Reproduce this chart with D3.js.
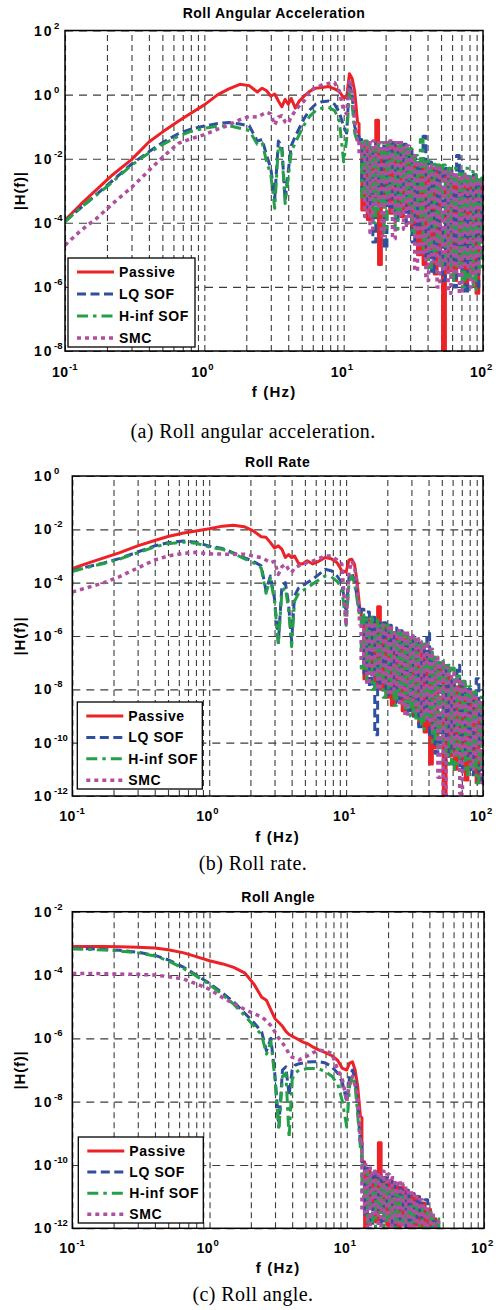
<!DOCTYPE html>
<html>
<head>
<meta charset="utf-8">
<script src="https://cdn.jsdelivr.net/npm/d3@7"></script>
<style>
  body { margin: 0; background: #fff; }
  svg text { font-family: "Liberation Sans", Arial, Helvetica, sans-serif; }
  svg text.cap { font-family: "Liberation Serif", "Times New Roman", serif; }
</style>
</head>
<body>
<svg id="fig" width="496" height="1310"></svg>
<script>
// Frequency grid (Hz) shared by all three responses
const freq = [
  0.1, 0.13, 0.17, 0.22, 0.3, 0.4, 0.5, 0.65, 0.8, 1.0,
  1.25, 1.5, 1.8, 2.1, 2.4, 2.6, 2.8, 3.0, 3.2, 3.4,
  3.6, 3.8, 4.0, 4.2, 4.5, 4.8, 5.2, 5.7, 6.3, 7.0,
  7.8, 8.6, 9.3, 10.0, 10.5, 11.0, 11.5, 12.0, 12.6,
  13.2, 13.8, 14.5, 15.1, 15.8, 16.6, 17.4, 18.2, 19.1, 20.0,
  20.9, 21.9, 22.9, 24.0, 25.1, 26.3, 27.5, 28.8, 30.2, 31.6,
  33.1, 34.7, 36.3, 38.0, 39.8, 41.7, 43.7, 45.7, 47.9, 50.1,
  52.5, 55.0, 57.5, 60.3, 63.1, 66.1, 69.2, 72.4, 75.9, 79.4,
  83.2, 87.1, 91.2, 95.5, 100
];
// above this frequency the responses chatter between upper and lower levels
const chatterFrom = 12.6;

const seriesNames = ["Passive", "LQ SOF", "H-inf SOF", "SMC"];

// Tick exponents (labels are 10^e)
const xExp = [-1, 0, 1, 2];
const accYExp = [-8, -6, -4, -2, 0, 2];
const rateYExp = [-12, -10, -8, -6, -4, -2, 0];
const angleYExp = [-12, -10, -8, -6, -4, -2];

// Roll angular acceleration, log10 |H(f)|
const accPassive = [
  -3.92, -3.42, -2.95, -2.50, -2.03, -1.48, -1.17, -0.83, -0.58, -0.32,
  0.00, 0.18, 0.32, 0.28, 0.08, 0.20, 0.12, -0.05, 0.02, -0.20,
  -0.38, -0.15, -0.30, -0.12, -0.42, -0.20, -0.05, 0.10, 0.20, 0.22,
  0.25, 0.18, 0.10, -0.10, -0.10, 0.65, 0.50, 0.10, -0.90,
  -1.5, -3.6, -1.6, -3.9, -1.7, -3.2, -0.8, -5.3, -1.7, -3.4,
  -1.6, -3.7, -1.5, -3.3, -1.6, -3.8, -1.7, -3.6, -1.9, -4.2,
  -2.2, -5.0, -2.1, -5.3, -2.3, -4.8, -2.3, -5.6, -2.4, -4.9,
  -8.0, -2.4, -5.5, -2.5, -5.8, -2.6, -5.4, -2.5, -6.0, -2.7,
  -5.6, -2.6, -6.2, -2.8, -4.5
];
const accLQ = [
  -3.95, -3.53, -3.10, -2.68, -2.17, -1.78, -1.50, -1.22, -1.08, -0.98,
  -0.90, -0.87, -0.92, -0.97, -1.45, -1.40, -1.90, -2.30, -3.25, -1.45,
  -1.60, -3.30, -2.40, -1.60, -1.30, -1.05, -0.75, -0.48, -0.30, -0.22,
  -0.20, -0.30, -0.55, -1.00, -1.20, 0.35, 0.00, -1.00, -1.30,
  -1.4, -3.0, -1.5, -3.5, -1.6, -4.6, -1.5, -3.2, -1.6, -4.8,
  -1.6, -3.5, -1.5, -3.9, -1.5, -3.4, -1.55, -4.0, -1.7, -4.6,
  -2.0, -4.2, -2.1, -1.3, -5.2, -2.1, -5.6, -2.2, -5.0, -2.3,
  -5.8, -2.3, -5.2, -2.4, -6.0, -1.9, -5.5, -2.4, -6.2, -2.5,
  -5.3, -2.5, -6.0, -2.7, -4.8
];
const accHinf = [
  -3.97, -3.52, -3.12, -2.72, -2.20, -1.82, -1.56, -1.30, -1.15, -1.05,
  -0.98, -0.97, -1.05, -1.12, -1.55, -1.50, -2.10, -2.50, -3.55, -1.60,
  -1.75, -3.40, -2.60, -1.80, -1.50, -1.25, -0.95, -0.68, -0.50, -0.42,
  -0.40, -0.50, -0.80, -2.10, -1.40, 0.15, -0.30, -1.20, -1.50,
  -1.5, -3.3, -1.45, -3.1, -1.6, -4.0, -1.55, -3.6, -1.5, -4.3,
  -1.5, -3.2, -1.6, -4.2, -1.5, -3.6, -1.6, -3.4, -1.7, -4.4,
  -1.9, -3.8, -1.4, -4.8, -2.0, -5.4, -2.1, -5.0, -2.2, -5.6,
  -2.2, -5.2, -2.3, -5.8, -2.3, -5.4, -2.4, -6.0, -2.3, -5.7,
  -2.4, -6.1, -2.5, -5.5, -2.6
];
const accSMC = [
  -4.70, -4.24, -3.85, -3.40, -2.90, -2.37, -1.96, -1.52, -1.38, -1.25,
  -1.08, -0.95, -0.78, -0.68, -0.70, -0.62, -0.55, -0.60, -0.95, -0.70,
  -0.66, -0.85, -0.90, -0.70, -0.50, -0.35, -0.20, 0.12, 0.22, 0.30,
  0.35, 0.38, 0.10, -0.50, -0.60, 0.48, 0.20, -0.80, -1.50,
  -1.9, -1.5, -3.8, -1.5, -4.3, -1.45, -3.5, -1.5, -4.4, -1.5,
  -3.4, -1.45, -4.5, -1.5, -3.8, -1.5, -4.2, -1.6, -4.0, -1.9,
  -5.5, -2.1, -5.0, -2.2, -5.8, -2.2, -5.2, -2.3, -6.0, -2.3,
  -5.5, -2.4, -6.2, -2.4, -5.6, -2.5, -6.2, -2.5, -5.4, -2.6,
  -6.0, -2.6, -5.6, -2.7, -5.0
];

// Roll rate, log10 |H(f)|
const ratePassive = [
  -3.47, -3.27, -3.07, -2.88, -2.62, -2.42, -2.27, -2.14, -2.06, -1.98,
  -1.88, -1.85, -1.90, -2.06, -2.28, -2.30, -2.50, -2.70, -2.62, -2.75,
  -3.05, -2.95, -3.06, -3.00, -3.28, -3.30, -3.18, -3.30, -3.20, -3.06,
  -3.10, -3.25, -3.55, -3.60, -3.15, -3.12, -3.30, -3.90, -5.00,
  -5.3, -7.6, -5.4, -7.2, -5.5, -7.8, -4.9, -8.0, -5.7, -8.3,
  -5.8, -8.6, -5.9, -8.2, -6.0, -8.8, -6.1, -8.5, -6.2, -9.0,
  -6.4, -9.3, -6.5, -9.6, -6.9, -10.8, -7.0, -10.2, -7.2, -7.3,
  -12.0, -7.5, -10.5, -7.7, -11.0, -7.9, -10.6, -8.0, -11.4, -8.2,
  -10.8, -8.4, -11.5, -8.6, -10.0
];
const rateLQ = [
  -3.56, -3.40, -3.26, -3.10, -2.85, -2.62, -2.50, -2.44, -2.48, -2.63,
  -2.72, -2.88, -3.06, -3.20, -3.37, -4.30, -3.75, -4.60, -6.25, -4.10,
  -4.00, -4.80, -6.20, -4.50, -4.20, -4.10, -4.00, -3.87, -3.70, -3.50,
  -3.55, -3.75, -4.00, -5.10, -3.80, -3.62, -3.90, -4.50, -5.10,
  -5.0, -7.4, -5.1, -7.9, -5.3, -9.7, -5.4, -7.8, -5.5, -8.2,
  -5.6, -8.0, -5.7, -8.5, -5.8, -8.3, -5.9, -8.8, -6.0, -9.0,
  -6.2, -9.4, -6.3, -9.1, -5.9, -9.8, -6.8, -10.4, -7.0, -10.0,
  -7.2, -10.8, -7.3, -10.2, -7.5, -7.1, -11.0, -7.8, -10.6, -8.0,
  -11.2, -8.2, -7.6, -11.4, -8.6
];
const rateHinf = [
  -3.58, -3.42, -3.28, -3.12, -2.88, -2.66, -2.54, -2.48, -2.52, -2.66,
  -2.75, -2.90, -3.10, -3.25, -3.45, -4.40, -3.85, -4.70, -6.30, -4.30,
  -4.20, -5.00, -6.40, -4.70, -4.40, -4.30, -4.20, -4.05, -3.90, -3.75,
  -3.78, -3.95, -4.20, -5.60, -4.00, -3.75, -4.00, -4.60, -5.30,
  -7.2, -5.2, -7.7, -5.3, -8.0, -5.4, -7.6, -5.5, -8.3, -5.6,
  -8.0, -5.7, -8.6, -5.8, -8.2, -5.9, -8.7, -6.0, -9.0, -6.1,
  -9.2, -6.2, -9.5, -6.3, -9.0, -6.6, -10.0, -6.8, -10.2, -6.9,
  -10.5, -7.0, -10.8, -7.2, -11.0, -7.5, -10.6, -7.7, -11.2, -7.9,
  -10.9, -8.1, -11.5, -8.3, -10.8
];
const rateSMC = [
  -4.35, -4.18, -4.00, -3.78, -3.45, -3.15, -3.00, -2.90, -2.86, -2.92,
  -2.93, -2.94, -2.93, -3.00, -3.06, -3.15, -3.25, -3.20, -3.69, -3.40,
  -3.31, -3.50, -3.62, -3.45, -3.37, -3.30, -3.25, -3.19, -3.10, -3.00,
  -3.00, -3.15, -3.30, -5.60, -3.60, -3.19, -3.40, -4.00, -5.60,
  -7.0, -5.6, -7.8, -5.5, -7.5, -5.6, -8.0, -5.6, -7.8, -5.7,
  -8.2, -5.7, -8.0, -5.8, -8.6, -5.9, -9.0, -5.9, -8.4, -6.0,
  -8.8, -6.1, -9.0, -6.3, -9.2, -6.5, -9.5, -6.8, -11.3, -7.0,
  -12.0, -7.2, -10.0, -7.4, -10.5, -7.6, -11.9, -7.8, -10.4, -8.0,
  -11.0, -8.2, -10.6, -8.4, -11.5
];

// Roll angle, log10 |H(f)| (responses fall below 1e-12 past ~48 Hz)
const anglePassive = [
  -3.10, -3.10, -3.10, -3.11, -3.12, -3.15, -3.20, -3.30, -3.42, -3.55,
  -3.65, -3.76, -3.93, -4.28, -4.70, -4.80, -5.10, -5.38, -5.50, -5.62,
  -5.78, -5.88, -5.93, -5.98, -6.05, -6.12, -6.17, -6.28, -6.37, -6.45,
  -6.55, -6.70, -6.95, -7.00, -6.78, -6.74, -7.00, -7.50, -8.50,
  -9.9, -12.0, -10.2, -11.2, -10.3, -11.8, -9.3, -11.5, -10.4, -11.9,
  -10.5, -11.6, -10.6, -12.1, -10.7, -11.8, -10.8, -12.2, -10.9, -11.9,
  -11.0, -12.3, -11.2, -12.1, -11.4, -12.4, -11.7, -12.6
];
const angleLQ = [
  -3.16, -3.17, -3.19, -3.22, -3.28, -3.38, -3.52, -3.76, -4.00, -4.26,
  -4.58, -4.85, -5.20, -5.50, -5.80, -6.40, -6.00, -7.20, -8.80, -7.00,
  -6.90, -7.80, -7.00, -6.85, -6.80, -6.78, -6.75, -6.74, -6.74, -6.78,
  -6.90, -7.10, -7.40, -8.00, -7.20, -7.00, -7.30, -8.20, -9.30,
  -9.9, -11.6, -10.1, -12.1, -10.2, -11.4, -10.3, -12.3, -10.4, -11.6,
  -10.5, -12.0, -10.6, -11.7, -10.7, -12.2, -10.8, -11.9, -10.9, -12.3,
  -11.0, -11.8, -11.2, -11.1, -12.2, -11.5, -12.4, -11.8, -12.6
];
const angleHinf = [
  -3.18, -3.19, -3.21, -3.24, -3.30, -3.40, -3.55, -3.80, -4.03, -4.30,
  -4.63, -4.92, -5.28, -5.60, -5.90, -6.50, -6.10, -7.30, -8.90, -7.20,
  -7.10, -9.15, -7.30, -7.10, -7.00, -6.98, -6.95, -6.95, -6.97, -7.05,
  -7.20, -7.45, -8.00, -8.80, -7.50, -7.20, -7.50, -8.40, -9.50,
  -11.0, -10.2, -11.8, -10.3, -12.2, -10.5, -11.5, -10.6, -12.3, -10.7,
  -11.7, -10.8, -12.2, -10.9, -11.8, -11.0, -12.3, -11.1, -11.9, -11.2,
  -12.4, -11.3, -12.0, -11.4, -12.3, -11.5, -12.5, -11.7, -12.6
];
const angleSMC = [
  -3.95, -3.95, -3.96, -3.97, -3.98, -4.00, -4.05, -4.13, -4.28, -4.45,
  -4.72, -4.90, -5.08, -5.22, -5.32, -5.45, -5.60, -5.80, -6.00, -6.15,
  -6.30, -6.50, -6.60, -6.62, -6.68, -6.62, -6.55, -6.45, -6.37, -6.40,
  -6.48, -7.00, -7.30, -8.00, -7.40, -7.20, -7.50, -7.80, -9.30,
  -11.5, -10.0, -12.0, -10.1, -11.6, -10.2, -12.2, -10.2, -11.7, -10.3,
  -12.3, -10.4, -11.8, -10.5, -12.2, -10.6, -11.9, -10.8, -12.4, -10.9,
  -12.0, -11.1, -12.3, -11.3, -12.2, -11.5, -12.5, -11.8, -12.6
];

// Line styles for Passive, LQ SOF, H-inf SOF, SMC
const styles = [
  { color: "#ec2227", dash: null,         width: 3 },
  { color: "#2f4f9f", dash: "9,4.5",      width: 3 },
  { color: "#26a048", dash: "11,5,3.5,5", width: 3 },
  { color: "#b04fa0", dash: "4,4",        width: 3.5 }
];

const panels = [
  { id: "acc", title: "Roll Angular Acceleration", caption: "(a) Roll angular acceleration.",
    left: 65, right: 483, top: 30.5, bottom: 351, yExp: accYExp,
    series: [accPassive, accLQ, accHinf, accSMC],
    titleY: 18, tickY: 377, xlabelY: 397, captionY: 438,
    legend: { x: 68, y: 258, w: 127, h: 89 } },
  { id: "rate", title: "Roll Rate", caption: "(b) Roll rate.",
    left: 72.3, right: 483, top: 476, bottom: 796, yExp: rateYExp,
    series: [ratePassive, rateLQ, rateHinf, rateSMC],
    titleY: 467, tickY: 821, xlabelY: 842, captionY: 870,
    legend: { x: 77.3, y: 702, w: 125, h: 87 } },
  { id: "angle", title: "Roll Angle", caption: "(c) Roll angle.",
    left: 72.3, right: 484, top: 911.7, bottom: 1228.3, yExp: angleYExp,
    series: [anglePassive, angleLQ, angleHinf, angleSMC],
    titleY: 902, tickY: 1253, xlabelY: 1273, captionY: 1301,
    legend: { x: 78.3, y: 1137, w: 125, h: 86 } }
];

const svg = d3.select("#fig");
const defs = svg.append("defs");
const gridColor = "#3c3c3c";

panels.forEach(p => {
  const x = d3.scaleLog().domain([0.1, 100]).range([p.left, p.right]);
  const yMin = Math.pow(10, d3.min(p.yExp)), yMax = Math.pow(10, d3.max(p.yExp));
  const y = d3.scaleLog().domain([yMin, yMax]).range([p.bottom, p.top]);
  const h = p.bottom - p.top, w = p.right - p.left;
  const g = svg.append("g");

  defs.append("clipPath").attr("id", "clip-" + p.id)
    .append("rect").attr("x", p.left).attr("y", p.top).attr("width", w).attr("height", h);

  // vertical grid on every log tick
  g.append("g").attr("transform", `translate(0,${p.bottom})`)
    .call(d3.axisBottom(x).ticks(10).tickSize(-h).tickFormat(""))
    .call(a => a.select(".domain").remove())
    .call(a => a.selectAll("line").attr("stroke", gridColor).attr("stroke-width", 1.1)
      .attr("stroke-dasharray", "6,4"));

  // horizontal grid on labelled decades
  const yTicks = p.yExp.map(e => Math.pow(10, e));
  g.append("g").attr("transform", `translate(${p.left},0)`)
    .call(d3.axisLeft(y).tickValues(yTicks).tickSize(-w).tickFormat(""))
    .call(a => a.select(".domain").remove())
    .call(a => a.selectAll("line").attr("stroke", gridColor).attr("stroke-width", 1.1)
      .attr("stroke-dasharray", "8,6"));

  // curves: smooth part as a polyline, chattering part as a step trace
  const smooth = d3.line().defined(d => d.v != null)
    .x(d => x(d.f)).y(d => y(Math.pow(10, d.v)));
  const chatter = d3.line().defined(d => d.v != null).curve(d3.curveStep)
    .x(d => x(d.f)).y(d => y(Math.pow(10, d.v)));
  const curves = g.append("g").attr("clip-path", `url(#clip-${p.id})`);
  p.series.forEach((vals, i) => {
    const pts = freq.map((f, k) => ({ f, v: vals[k] }));
    const lowPts = pts.filter(d => d.f <= chatterFrom);
    const highPts = pts.filter(d => d.f >= chatterFrom);
    const s = styles[i];
    const gs = curves.append("g")
      .attr("fill", "none").attr("stroke", s.color).attr("stroke-width", s.width)
      .attr("stroke-linejoin", "round").attr("stroke-dasharray", s.dash);
    gs.append("path").attr("d", smooth(lowPts));
    gs.append("path").attr("d", chatter(highPts));
  });

  // frame
  g.append("rect").attr("x", p.left).attr("y", p.top).attr("width", w).attr("height", h)
    .attr("fill", "none").attr("stroke", "#000").attr("stroke-width", 1.5);

  // y tick labels 10^e
  p.yExp.forEach(e => {
    const yy = y(Math.pow(10, e));
    g.append("text").attr("x", 34).attr("y", yy + 5)
      .attr("font-size", 14).attr("font-weight", "bold").attr("letter-spacing", 2).text("10");
    g.append("text").attr("x", 54).attr("y", yy - 2)
      .attr("font-size", 9.5).attr("font-weight", "bold").text(String(e));
  });

  // x tick labels 10^e
  xExp.forEach(e => {
    const xx = x(Math.pow(10, e));
    g.append("text").attr("x", xx - 13).attr("y", p.tickY)
      .attr("font-size", 14).attr("font-weight", "bold").attr("letter-spacing", 0.5).text("10");
    g.append("text").attr("x", xx + 4).attr("y", p.tickY - 7)
      .attr("font-size", 9.5).attr("font-weight", "bold").text(String(e));
  });

  // titles and labels
  const cx = (p.left + p.right) / 2;
  g.append("text").attr("x", cx).attr("y", p.titleY).attr("text-anchor", "middle")
    .attr("font-size", 14).attr("font-weight", "bold").attr("letter-spacing", 0.5).text(p.title);
  g.append("text").attr("x", cx).attr("y", p.xlabelY).attr("text-anchor", "middle")
    .attr("font-size", 15).attr("font-weight", "bold").attr("letter-spacing", 1.2).text("f (Hz)");
  const my = (p.top + p.bottom) / 2;
  g.append("text").attr("transform", `translate(25,${my}) rotate(-90)`).attr("text-anchor", "middle")
    .attr("font-size", 15).attr("font-weight", "bold").attr("letter-spacing", 0.8).text("|H(f)|");
  g.append("text").attr("class", "cap").attr("x", 253).attr("y", p.captionY).attr("text-anchor", "middle")
    .attr("font-size", 20).attr("letter-spacing", 0.4).text(p.caption);

  // legend
  const L = p.legend;
  const lg = g.append("g");
  lg.append("rect").attr("x", L.x).attr("y", L.y).attr("width", L.w).attr("height", L.h)
    .attr("fill", "#fff").attr("stroke", "#000").attr("stroke-width", 1.3);
  const rowStep = (L.h - 16) / 3.4;
  seriesNames.forEach((name, i) => {
    const ry = L.y + 14 + i * rowStep + i * 0.5;
    lg.append("line").attr("x1", L.x + 9).attr("x2", L.x + 46).attr("y1", ry).attr("y2", ry)
      .attr("stroke", styles[i].color).attr("stroke-width", styles[i].width)
      .attr("stroke-dasharray", styles[i].dash);
    lg.append("text").attr("x", L.x + 51).attr("y", ry + 5)
      .attr("font-size", 14).attr("font-weight", "bold").attr("letter-spacing", 0.6).text(name);
  });
});
</script>
</body>
</html>
